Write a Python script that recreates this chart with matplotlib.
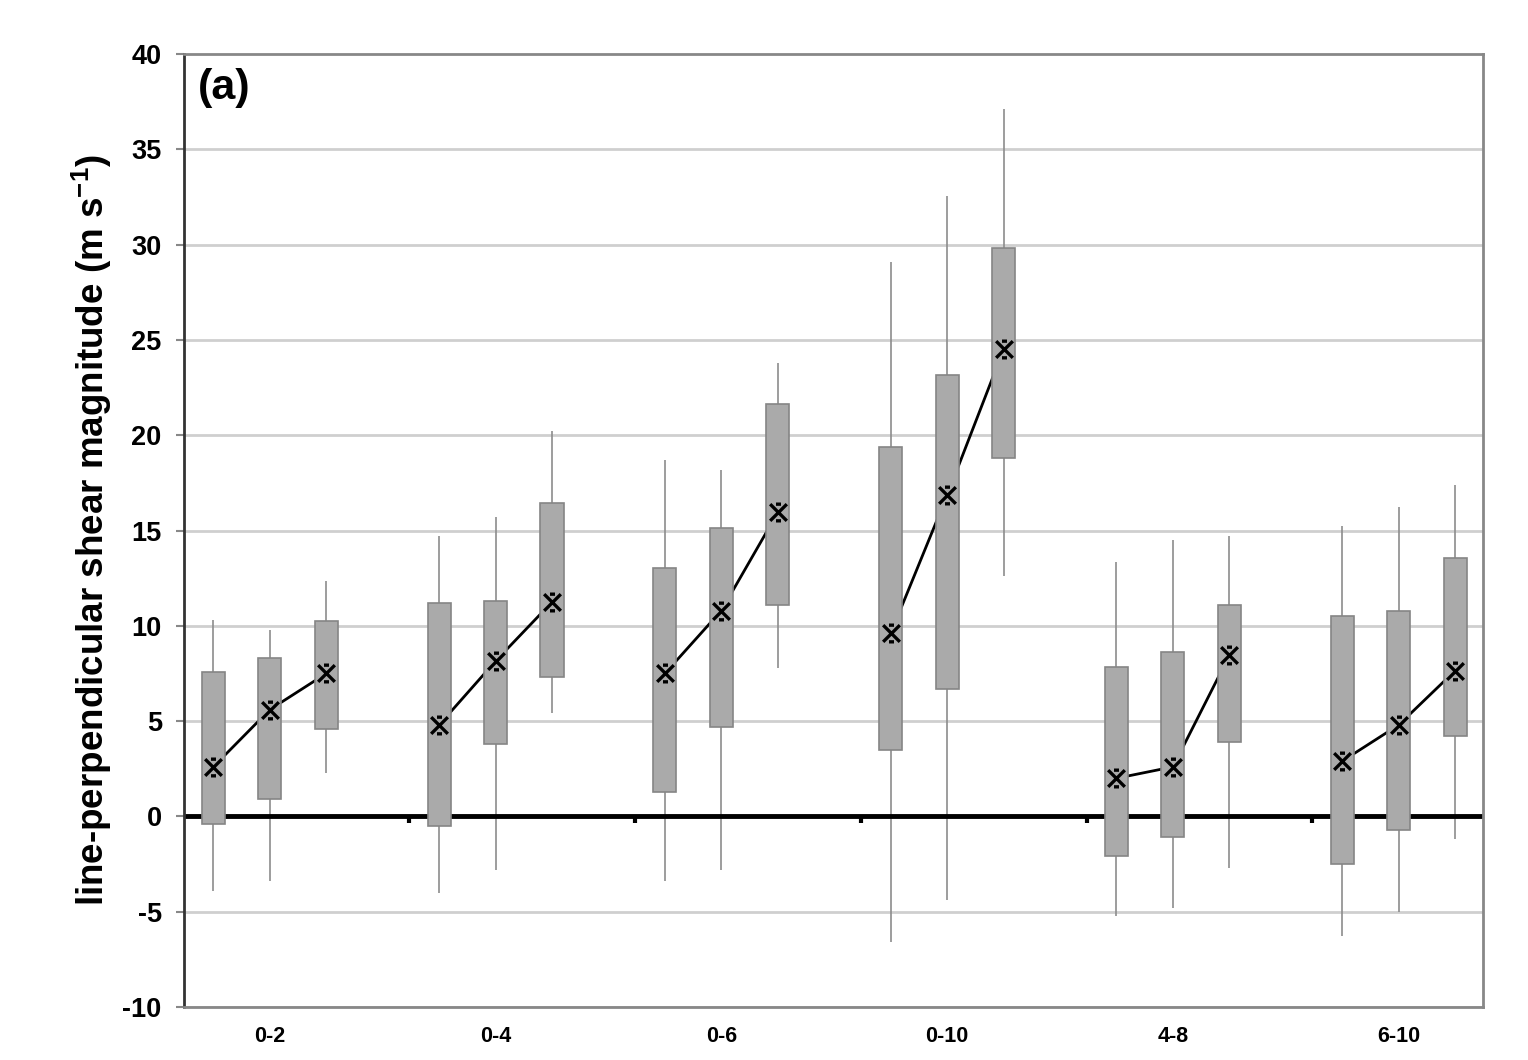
import numpy as np
import matplotlib
matplotlib.use("Agg")
import matplotlib.pyplot as plt
from matplotlib.path import Path

plt.rcParams['font.family'] = ['Liberation Sans', 'DejaVu Sans']
plt.rcParams['axes.unicode_minus'] = False
plt.rcParams['mathtext.fontset'] = 'custom'
plt.rcParams['mathtext.bf'] = 'Liberation Sans:bold'
plt.rcParams['mathtext.rm'] = 'Liberation Sans:bold'

groups = ['0-2', '0-4', '0-6', '0-10', '4-8', '6-10']

# three boxes per layer group
whisk_lo = [-3.9, -3.4, 2.3,   -4.0, -2.8, 5.4,   -3.4, -2.8, 7.8,
            -6.6, -4.4, 12.6,  -5.2, -4.8, -2.7,  -6.3, -5.0, -1.2]
box_lo = [-0.4, 0.9, 4.6,   -0.5, 3.8, 7.3,   1.3, 4.7, 11.1,
          3.5, 6.7, 18.8,   -2.1, -1.1, 3.9,  -2.5, -0.7, 4.2]
median = [2.6, 5.6, 7.5,   4.8, 8.15, 11.25,   7.5, 10.8, 15.95,
          9.6, 16.85, 24.5,  2.0, 2.6, 8.45,   2.9, 4.8, 7.65]
box_hi = [7.6, 8.3, 10.25,   11.2, 11.3, 16.45,   13.05, 15.15, 21.65,
          19.4, 23.15, 29.8,  7.85, 8.65, 11.1,   10.5, 10.8, 13.55]
whisk_hi = [10.3, 9.8, 12.35,   14.7, 15.7, 20.2,   18.7, 18.2, 23.8,
            29.1, 32.55, 37.1,  13.35, 14.5, 14.7,   15.25, 16.25, 17.4]

fig = plt.figure(figsize=(15.28, 10.6), dpi=100)
ax = fig.add_axes([0.1204, 0.05, 0.8504, 0.899])

xpos = np.array([4 * g + j for g in range(len(groups)) for j in range(3)], dtype=float)
box_w = 0.41

# grid
for yv in range(-10, 40, 5):
    if yv != 0:
        ax.axhline(yv, color='#cfcfcf', lw=2, zorder=0)

# whiskers
ax.vlines(xpos, whisk_lo, whisk_hi, color='#8c8c8c', lw=1.2, zorder=1)

# median lines per group (behind boxes)
for g in range(len(groups)):
    sl = slice(3 * g, 3 * g + 3)
    ax.plot(xpos[sl], median[sl], color='black', lw=2, zorder=2)

# boxes
ax.bar(xpos, np.array(box_hi) - np.array(box_lo), bottom=box_lo, width=box_w,
       color='#aaaaaa', edgecolor='#858585', linewidth=1.2, zorder=3)

# zero line
ax.axhline(0, color='black', lw=3.5, zorder=2.5)
sep = [3.47 + 4 * k for k in range(5)]
ax.vlines(sep, -0.35, 0, color='black', lw=3, zorder=2.5)

# excel-style star marker: X with short bars top and bottom
star = Path([(-1, -1), (1, 1), (-1, 1), (1, -1), (-0.3, 1), (0.3, 1), (-0.3, -1), (0.3, -1)],
            [Path.MOVETO, Path.LINETO] * 4)
ax.plot(xpos, median, linestyle='none', marker=star, markersize=12,
        markeredgewidth=2.4, color='black', zorder=4)

ax.set_xlim(-0.52, 22.5)
ax.set_ylim(-10, 40)
ax.set_yticks(range(-10, 41, 5))
ax.tick_params(axis='y', length=6, width=1.5, color='#888888', pad=10, labelsize=19.5)
ax.set_xticks(xpos[1::3])
ax.set_xticklabels(groups)
ax.tick_params(axis='x', length=0, pad=14, labelsize=15.5)
for lab in ax.get_xticklabels() + ax.get_yticklabels():
    lab.set_fontweight('bold')

ax.spines['left'].set_color('#333333')
ax.spines['left'].set_linewidth(2)
for s in ['top', 'right', 'bottom']:
    ax.spines[s].set_color('#888888')
    ax.spines[s].set_linewidth(2)

ax.set_ylabel('line-perpendicular shear magnitude (m s$^{\\mathbf{-1}}$)',
              fontsize=26.5, fontweight='bold')
ax.yaxis.set_label_coords(-0.054, 0.5)

ax.text(0.011, 0.985, '(a)', transform=ax.transAxes, fontsize=31,
        fontweight='bold', va='top', ha='left')

fig.savefig('out.png', dpi=100)
